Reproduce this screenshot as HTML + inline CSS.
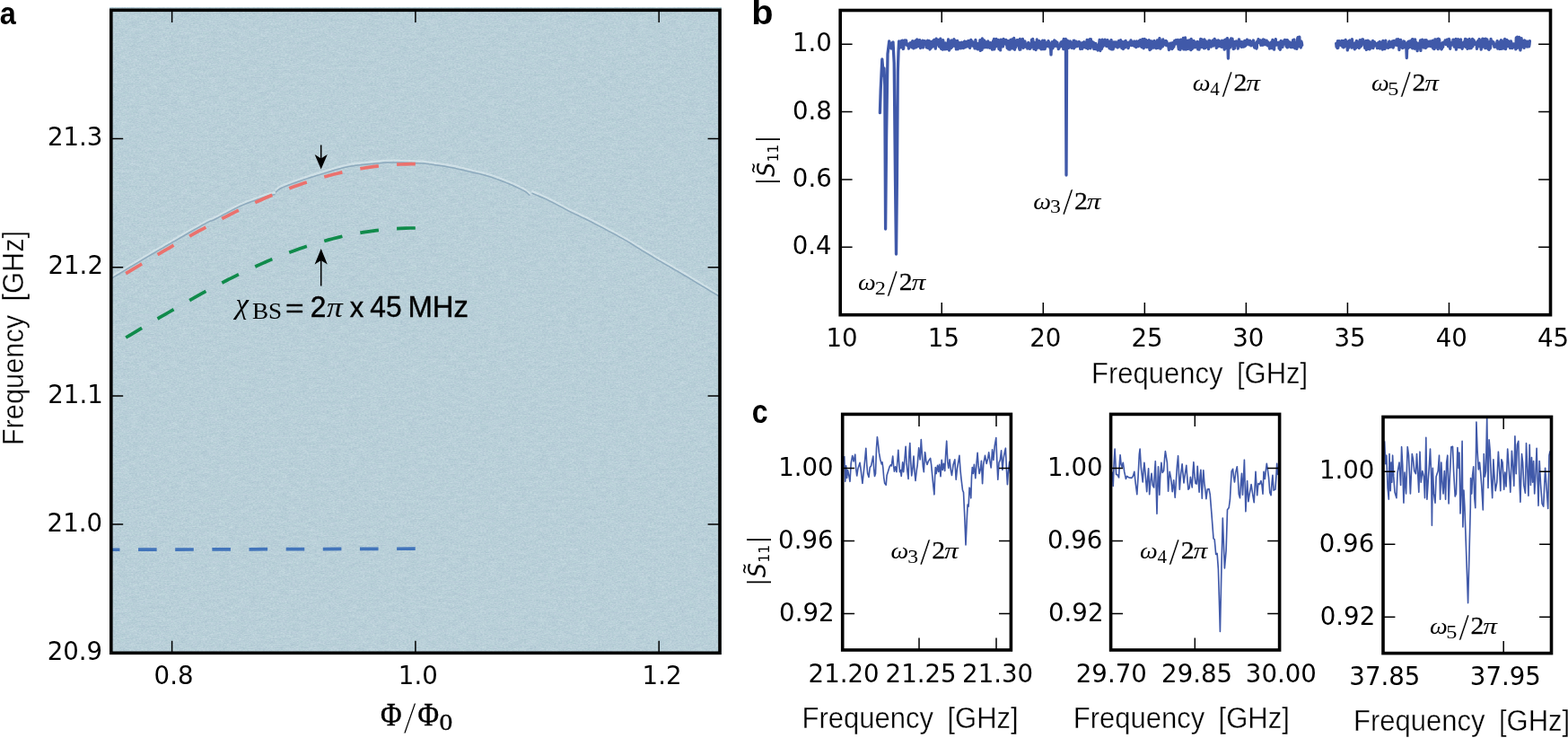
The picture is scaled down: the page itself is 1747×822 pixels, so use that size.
<!DOCTYPE html>
<html lang="en"><head><meta charset="utf-8"><title>Figure</title>
<style>html,body{margin:0;padding:0;background:#fff}body{width:1747px;height:822px;overflow:hidden}svg{display:block}text{fill:#000;font-kerning:none;white-space:pre}</style>
</head><body>
<svg width="1747" height="822" viewBox="0 0 1747 822">
<rect width="1747" height="822" fill="#fff"/>
<defs><clipPath id="ca"><rect x="123.8" y="11.3" width="678.2" height="716"/></clipPath><filter id="nz" x="0" y="0" width="100%" height="100%" color-interpolation-filters="sRGB"><feTurbulence type="fractalNoise" baseFrequency="0.45 0.8" numOctaves="2" seed="4"/><feColorMatrix type="matrix" values="1 0 0 0 0  0 1 0 0 0  0 0 1 0 0  0 0 0 0 1" result="f"/><feTurbulence type="fractalNoise" baseFrequency="0.09 0.28" numOctaves="2" seed="9"/><feColorMatrix type="matrix" values="1 0 0 0 0  0 1 0 0 0  0 0 1 0 0  0 0 0 0 1" result="c"/><feComposite in="f" in2="c" operator="arithmetic" k1="0" k2="0.85" k3="0.4" k4="-0.125"/><feColorMatrix type="matrix" values="0.16 0.04 0 0 0.625  0.13 0 0.035 0 0.730  0.10 0.03 0 0 0.783  0 0 0 0 1"/></filter><filter id="sb" x="-5%" y="-5%" width="110%" height="110%"><feGaussianBlur stdDeviation="0.55"/></filter></defs>
<rect x="122.3" y="8.8" width="681.2" height="720" fill="#b8cfd8"/>
<rect x="122.3" y="8.8" width="681.2" height="720" filter="url(#nz)"/>
<g clip-path="url(#ca)" fill="none" stroke-linejoin="round" stroke-linecap="round" filter="url(#sb)">
<path d="M116 312.9L116.7 312.5L117.4 312.1L118.4 311.5L119.8 310.6L122.1 309.2L125.5 307.2L130.3 304.3L136.3 300.7L143.2 296.5L150.4 292.2L157.4 288L163.8 284.2L169.6 280.8L175.2 277.5L180.6 274.4L185.9 271.3L191.3 268.2L196.7 265.1L202.4 261.8L208.5 258.3L214.5 254.8L220.2 251.6L225.3 248.7L229.5 246.4L232.3 244.9L234 244.2L235.1 243.8L236.1 243.5L237.5 243L240 241.8L243.6 239.9L248.1 237.5L252.9 234.9L258 232.2L262.9 229.7L267.4 227.5L271.6 225.7L275.8 224L279.8 222.5L283.6 221.2L287 220L290 218.9L292.4 218L294.4 217.4L296 216.8L297.4 216.4L298.7 216.1L300 215.7L301.3 215.4L302.5 215.1L303.6 214.9L304.5 214.7L305.3 214.6L305.9 214.5M307.6 211.5L308.2 211L308.8 210.4L309.5 209.7L310.7 208.8L312.3 207.8L314.5 206.7L317.6 205.4L321.4 204L325.6 202.4L330.1 200.8L334.5 199.3L338.6 197.9L342.3 196.7L345.7 195.5L349.1 194.5L352.5 193.4L356.1 192.4L360 191.2L364.2 189.9L368.7 188.5L373.3 187.1L378 185.8L382.8 184.5L387.4 183.5L392 182.7L396.7 182L401.4 181.5L406.1 181L410.6 180.6L414.8 180.2L418.6 179.8L422.1 179.5L425.4 179.2L428.8 178.9L432.5 178.8L436.7 178.7L441.8 178.7L447.7 178.8L453.8 179L459.8 179.3L465.2 179.5L469.5 179.7L472.4 179.9L474.2 180L475.4 180.2L476.5 180.3L477.8 180.6L480 180.9L483 181.3L486.5 181.8L490.2 182.3L494.2 182.9L498.1 183.5L501.9 184.2L505.5 184.9L509.2 185.7L512.8 186.5L516.5 187.4L520.1 188.2L523.8 189.1L527.4 190L531.1 190.8L534.8 191.6L538.4 192.5L542 193.5L545.7 194.6L549.4 195.8L553.2 197.2L557 198.6L560.7 200L564.3 201.4L567.6 202.8L570.8 204.1L573.9 205.5L576.8 206.9L579.5 208.2L581.9 209.4L584 210.5L585.6 211.5L586.9 212.4L587.9 213.3L588.7 214L589.3 214.6L589.8 215.1M593.2 213.2L595.2 214.1L597.9 215.2L601.2 216.6L604.7 218.1L608.4 219.7L611.9 221.4L615.4 223.1L619 225L622.6 227L626.4 229L630.1 231L633.8 232.9L637.4 234.7L641.1 236.4L644.8 238.2L648.4 239.9L652 241.6L655.7 243.4L659.4 245.3L663 247.1L666.7 249.1L670.3 251L674 252.9L677.6 254.9L681.4 256.9L685.3 259L689.1 261.1L692.9 263.2L696.4 265.1L699.5 266.9L702 268.4L704 269.6L705.7 270.7L707.4 271.9L709.4 273.1L711.9 274.7L715 276.6L718.5 278.7L722.3 281L726.1 283.3L730 285.7L733.8 287.9L737.4 290L741.1 292.1L744.8 294.2L748.4 296.3L752 298.4L755.7 300.5L759.4 302.7L763 304.8L766.7 307L770.3 309.2L774 311.4L777.6 313.6L781.4 315.9L785.3 318.2L789.3 320.6L793 322.9L796.5 325L799.5 326.8L802 328.3L804.2 329.6L806.1 330.8L807.7 331.7L809 332.5L810 333.1" stroke="#e8f1f5" stroke-width="2.3" opacity="0.5"/>
<path d="M116 315.1L116.7 314.7L117.4 314.3L118.4 313.7L119.8 312.8L122.1 311.4L125.5 309.4L130.3 306.5L136.3 302.9L143.2 298.7L150.4 294.4L157.4 290.2L163.8 286.4L169.6 283L175.2 279.7L180.6 276.6L185.9 273.5L191.3 270.4L196.7 267.3L202.4 264L208.5 260.5L214.5 257L220.2 253.8L225.3 250.9L229.5 248.6L232.3 247.1L234 246.4L235.1 246L236.1 245.7L237.5 245.2L240 244L243.6 242.1L248.1 239.7L252.9 237.1L258 234.4L262.9 231.9L267.4 229.7L271.6 227.9L275.8 226.2L279.8 224.7L283.6 223.4L287 222.2L290 221.1L292.4 220.2L294.4 219.6L296 219L297.4 218.6L298.7 218.3L300 217.9L301.3 217.6L302.5 217.3L303.6 217.1L304.5 216.9L305.3 216.8L305.9 216.7M307.6 213.7L308.2 213.2L308.8 212.6L309.5 211.8L310.7 211L312.3 210L314.5 208.9L317.6 207.6L321.4 206.2L325.6 204.6L330.1 203L334.5 201.5L338.6 200.1L342.3 198.9L345.7 197.7L349.1 196.7L352.5 195.6L356.1 194.6L360 193.4L364.2 192.1L368.7 190.7L373.3 189.3L378 188L382.8 186.7L387.4 185.7L392 184.9L396.7 184.2L401.4 183.7L406.1 183.2L410.6 182.8L414.8 182.4L418.6 182L422.1 181.7L425.4 181.4L428.8 181.1L432.5 181L436.7 180.9L441.8 180.9L447.7 181L453.8 181.2L459.8 181.5L465.2 181.7L469.5 181.9L472.4 182.1L474.2 182.2L475.4 182.4L476.5 182.5L477.8 182.8L480 183.1L483 183.5L486.5 184L490.2 184.5L494.2 185.1L498.1 185.7L501.9 186.4L505.5 187.1L509.2 187.9L512.8 188.7L516.5 189.6L520.1 190.4L523.8 191.3L527.4 192.2L531.1 193L534.8 193.8L538.4 194.7L542 195.7L545.7 196.8L549.4 198L553.2 199.4L557 200.8L560.7 202.2L564.3 203.6L567.6 205L570.8 206.3L573.9 207.7L576.8 209.1L579.5 210.4L581.9 211.6L584 212.7L585.6 213.7L586.9 214.6L587.9 215.5L588.7 216.2L589.3 216.8L589.8 217.3M593.2 215.4L595.2 216.3L597.9 217.4L601.2 218.8L604.7 220.3L608.4 221.9L611.9 223.6L615.4 225.3L619 227.2L622.6 229.2L626.4 231.2L630.1 233.2L633.8 235.1L637.4 236.9L641.1 238.6L644.8 240.3L648.4 242.1L652 243.8L655.7 245.6L659.4 247.5L663 249.3L666.7 251.3L670.3 253.2L674 255.1L677.6 257.1L681.4 259.1L685.3 261.2L689.1 263.3L692.9 265.4L696.4 267.3L699.5 269.1L702 270.6L704 271.8L705.7 272.9L707.4 274.1L709.4 275.3L711.9 276.9L715 278.8L718.5 280.9L722.3 283.2L726.1 285.5L730 287.9L733.8 290.1L737.4 292.2L741.1 294.3L744.8 296.4L748.4 298.5L752 300.6L755.7 302.7L759.4 304.9L763 307L766.7 309.2L770.3 311.4L774 313.6L777.6 315.8L781.4 318.1L785.3 320.4L789.3 322.8L793 325.1L796.5 327.2L799.5 329L802 330.5L804.2 331.8L806.1 333L807.7 333.9L809 334.7L810 335.3" stroke="#8aa8bc" stroke-width="1.5" opacity="0.95"/>
</g>
<path d="M140.2 304.6L145.6 301.4L151 298.2L156.3 295L161.7 291.9L167.1 288.7L172.5 285.5L177.8 282.3L183.2 279.2L188.6 276.1L194 272.9L199.3 269.9L204.7 266.8L210.1 263.7L215.5 260.7L220.8 257.7L226.2 254.8L231.6 251.9L237 249L242.4 246.2L247.7 243.4L253.1 240.6L258.5 237.9L263.9 235.2L269.2 232.6L274.6 230L280 227.5L285.4 225.1L290.7 222.7L296.1 220.3L301.5 218L306.9 215.8L312.3 213.7L317.6 211.6L323 209.5L328.4 207.6L333.8 205.7L339.1 203.8L344.5 202.1L349.9 200.4L355.3 198.7L360.6 197.2L366 195.7L371.4 194.3L376.8 193L382.1 191.7L387.5 190.6L392.9 189.5L398.3 188.5L403.7 187.5L409 186.7L414.4 185.9L419.8 185.2L425.2 184.6L430.5 184.1L435.9 183.6L441.3 183.2L446.7 183L452 182.8L457.4 182.6L462.8 182.6" fill="none" stroke="#eb716d" stroke-width="3.7" stroke-dasharray="20.8 20.3"/>
<path d="M140.2 376L145.6 372.8L151 369.6L156.3 366.4L161.7 363.3L167.1 360.1L172.5 356.9L177.8 353.7L183.2 350.6L188.6 347.5L194 344.3L199.3 341.3L204.7 338.2L210.1 335.1L215.5 332.1L220.8 329.1L226.2 326.2L231.6 323.3L237 320.4L242.4 317.6L247.7 314.8L253.1 312L258.5 309.3L263.9 306.6L269.2 304L274.6 301.4L280 298.9L285.4 296.5L290.7 294.1L296.1 291.7L301.5 289.4L306.9 287.2L312.3 285.1L317.6 283L323 280.9L328.4 279L333.8 277.1L339.1 275.2L344.5 273.5L349.9 271.8L355.3 270.1L360.6 268.6L366 267.1L371.4 265.7L376.8 264.4L382.1 263.1L387.5 262L392.9 260.9L398.3 259.9L403.7 258.9L409 258.1L414.4 257.3L419.8 256.6L425.2 256L430.5 255.5L435.9 255L441.3 254.6L446.7 254.4L452 254.2L457.4 254L462.8 254" fill="none" stroke="#108b4b" stroke-width="3.7" stroke-dasharray="20.8 20.3"/>
<path d="M112.9 612.3L464.6 611.2" fill="none" stroke="#4274ba" stroke-width="3.7" stroke-dasharray="20.6 20.55" clip-path="url(#ca)"/>
<path d="M357.7 161.5V178M357.7 318.5V288" stroke="#000" stroke-width="1.5" fill="none"/>
<path d="M357.7 188.6L350.6 171.9L357.7 176.4L364.8 171.9ZM357.7 277.1L350.6 294.5L357.7 290.0L364.8 294.5Z" fill="#000"/>
<text transform="translate(262.61 349.35) scale(1.027 1)" font-size="31.7" font-family="Liberation Serif, DejaVu Serif, serif" font-style="italic">χ</text>
<text transform="translate(280.92 355.2) scale(1.046 1)" font-size="26" font-family="Liberation Serif, DejaVu Serif, serif">BS</text>
<text transform="translate(317.97 352.69) scale(1.268 1)" font-size="27.93" font-family="Liberation Sans, DejaVu Sans, sans-serif" stroke="#000" stroke-width="0.3">=</text>
<text transform="translate(345.81 352.9) scale(0.970 1)" font-size="32.6" font-family="Liberation Sans, DejaVu Sans, sans-serif" stroke="#000" stroke-width="0.5">2</text>
<text transform="translate(364.01 352.9) scale(1.155 1)" font-size="30.72" font-family="Liberation Serif, DejaVu Serif, serif" font-style="italic">π</text>
<text transform="translate(389.85 352.9) scale(0.968 1)" font-size="32" font-family="Liberation Sans, DejaVu Sans, sans-serif" stroke="#000" stroke-width="0.4">x</text>
<text transform="translate(412.27 352.9) scale(0.975 1)" font-size="32.6" font-family="Liberation Sans, DejaVu Sans, sans-serif" stroke="#000" stroke-width="0.4">45</text>
<text transform="translate(454.4 352.9) scale(0.994 1)" font-size="33.1" font-family="Liberation Sans, DejaVu Sans, sans-serif" stroke="#000" stroke-width="0.4">MHz</text>
<rect x="123.8" y="11.3" width="678.2" height="716" fill="none" stroke="#000" stroke-width="3.6"/>
<path d="M191.62 727.3v-13.6M191.62 11.3v13.6M462.9 727.3v-13.6M462.9 11.3v13.6M734.18 727.3v-13.6M734.18 11.3v13.6M123.8 584.1h13.4M802 584.1h-13.4M123.8 440.9h13.4M802 440.9h-13.4M123.8 297.7h13.4M802 297.7h-13.4M123.8 154.5h13.4M802 154.5h-13.4" stroke="#000" stroke-width="1.5" fill="none"/>
<text x="171.61" y="761.8" font-size="27.6" font-family="DejaVu Sans, Liberation Sans, sans-serif">0.8</text>
<text x="443.85" y="761.8" font-size="27.6" font-family="DejaVu Sans, Liberation Sans, sans-serif">1.0</text>
<text x="715.6" y="761.8" font-size="27.6" font-family="DejaVu Sans, Liberation Sans, sans-serif">1.2</text>
<text x="52.69" y="735" font-size="27.6" font-family="DejaVu Sans, Liberation Sans, sans-serif">20.9</text>
<text x="52.58" y="591.8" font-size="27.6" font-family="DejaVu Sans, Liberation Sans, sans-serif">21.0</text>
<text x="53.29" y="448.6" font-size="27.6" font-family="DejaVu Sans, Liberation Sans, sans-serif">21.1</text>
<text x="53.51" y="305.4" font-size="27.6" font-family="DejaVu Sans, Liberation Sans, sans-serif">21.2</text>
<text x="52.96" y="162.2" font-size="27.6" font-family="DejaVu Sans, Liberation Sans, sans-serif">21.3</text>
<text transform="translate(26.1 496.23) rotate(-90) scale(0.909 1)" font-size="33.87" font-family="Liberation Sans, DejaVu Sans, sans-serif" word-spacing="7.39" stroke="#fff" stroke-width="0.38" paint-order="fill stroke">Frequency [GHz]</text>
<text transform="translate(423.92 807.6) scale(0.890 1)" font-size="36.2" font-family="Liberation Serif, DejaVu Serif, serif" stroke="#000" stroke-width="0.5">Φ</text>
<text transform="translate(449.4 815.6) scale(0.998 1)" font-size="51.57" font-family="Liberation Serif, DejaVu Serif, serif" stroke="#fff" stroke-width="0.9">/</text>
<text transform="translate(465.62 807.6) scale(0.890 1)" font-size="36.2" font-family="Liberation Serif, DejaVu Serif, serif" stroke="#000" stroke-width="0.5">Φ</text>
<text transform="translate(489.48 812.96) scale(1.185 1)" font-size="24.9" font-family="Liberation Serif, DejaVu Serif, serif" stroke="#000" stroke-width="0.3">0</text>
<g fill="none" stroke="#4059a9" stroke-width="3.3" stroke-linejoin="round" stroke-linecap="round">
<path d="M980.4 125.6L981.2 100L982.8 66L984.3 84L985 76L985.8 95L986.6 255L987.6 150L989 60L990.7 46L991.8 50.5L993 54L994 48L995 47L996.2 70L997.5 200L998.5 283L999.4 200L1000.3 80L1001 58L1001.6 46L1002 53.7L1002.4 49L1002.8 49.4L1003.3 50.3L1003.7 46.1L1004.1 52.5L1004.5 45.3L1004.9 47.4L1005.4 45.2L1005.8 52.7L1006.2 54.5L1006.6 54.3L1007 50.7L1007.5 50.2L1007.9 44.9L1008.3 45.3L1008.7 46.4L1009.1 46.8L1009.6 45L1010 48.7L1010.4 49.7L1010.8 50.8L1011.2 49.5L1011.7 51L1012.1 49.1L1012.5 54.1L1012.9 52.9L1013.3 51.8L1013.8 48.5L1014.2 47.8L1014.6 51.4L1015 48.5L1015.4 52L1015.9 48.4L1016.3 52.9L1016.7 45.6L1017.1 53.1L1017.5 48.4L1018 53.9L1018.4 47.6L1018.8 51.4L1019.2 47.1L1019.6 45.6L1020.1 47.6L1020.5 52.9L1020.9 46L1021.3 44.4L1021.7 44L1022.2 51.8L1022.6 45.2L1023 45.4L1023.4 51.3L1023.8 44.8L1024.3 50.3L1024.7 44.6L1025.1 46.2L1025.5 53.5L1025.9 51.7L1026.4 46.6L1026.8 52.6L1027.2 51.8L1027.6 49.9L1028 45.1L1028.5 53L1028.9 46.1L1029.3 47.8L1029.7 47.5L1030.1 45.7L1030.6 45.9L1031 49.9L1031.4 48.4L1031.8 49L1032.2 52.8L1032.7 49.2L1033.1 49.9L1033.5 45.2L1033.9 53.3L1034.4 52.3L1034.8 46.3L1035.2 45.6L1035.6 45.9L1036 55L1036.5 54.2L1036.9 50.8L1037.3 48.6L1037.7 53.2L1038.1 46.5L1038.6 50.8L1039 46.7L1039.4 51.9L1039.8 45.5L1040.2 51.1L1040.7 44.4L1041.1 46L1041.5 49.4L1041.9 46.4L1042.3 54.2L1042.8 45.4L1043.2 43.1L1043.6 46.2L1044 44.9L1044.4 47.1L1044.9 49.4L1045.3 44.4L1045.7 47L1046.1 51.5L1046.5 51.9L1047 50.5L1047.4 44.6L1047.8 43.2L1048.2 51.8L1048.6 54.3L1049.1 45.2L1049.5 51.2L1049.9 49.7L1050.3 55.1L1050.7 44.7L1051.2 50L1051.6 52.1L1052 54L1052.4 53.3L1052.8 54.8L1053.3 47.8L1053.7 52L1054.1 54.6L1054.5 53.5L1054.9 54.5L1055.4 50.5L1055.8 51.2L1056.2 47.8L1056.6 44L1057 51.4L1057.5 56L1057.9 54.5L1058.3 52.5L1058.7 50.7L1059.1 49L1059.6 53.7L1060 44.9L1060.4 52.7L1060.8 49.6L1061.2 47.4L1061.7 51.4L1062.1 49.7L1062.5 50.7L1062.9 43.6L1063.3 47L1063.8 51.4L1064.2 45.8L1064.6 45.4L1065 48.7L1065.4 54.8L1065.9 47.1L1066.3 51.7L1066.7 45.4L1067.1 54.8L1067.5 54.4L1068 48.4L1068.4 50.8L1068.8 47.6L1069.2 52.9L1069.6 53L1070.1 51.7L1070.5 53.9L1070.9 47.5L1071.3 47.7L1071.7 47.2L1072.2 48.8L1072.6 50.5L1073 49.4L1073.4 53.6L1073.8 49.4L1074.3 46.5L1074.7 46.1L1075.1 52.8L1075.5 50.5L1075.9 48.5L1076.4 52.1L1076.8 46.3L1077.2 47.1L1077.6 51.9L1078 47L1078.5 46.1L1078.9 45.4L1079.3 50.2L1079.7 50.7L1080.1 52.1L1080.6 53.4L1081 51L1081.4 46.7L1081.8 44.4L1082.2 48.7L1082.7 50.9L1083.1 46L1083.5 46.8L1083.9 49.5L1084.3 50.3L1084.8 51.6L1085.2 48.3L1085.6 51.9L1086 53.9L1086.4 51.4L1086.9 44.4L1087.3 48.2L1087.7 50.3L1088.1 49.7L1088.5 54L1089 52.8L1089.4 54.9L1089.8 48.3L1090.2 51.6L1090.6 52.9L1091.1 50.5L1091.5 51.5L1091.9 44.7L1092.3 56.4L1092.7 49.9L1093.2 53.6L1093.6 46.7L1094 55.4L1094.4 43L1094.8 48.3L1095.3 49.9L1095.7 53.1L1096.1 49L1096.5 44.9L1096.9 52.8L1097.4 46.1L1097.8 47.8L1098.2 52.7L1098.6 49.2L1099.1 51L1099.5 52L1099.9 50.7L1100.3 52.9L1100.7 45.8L1101.2 47.1L1101.6 49.9L1102 47.7L1102.4 51.8L1102.8 53.2L1103.3 50.2L1103.7 47.6L1104.1 48.3L1104.5 53.2L1104.9 53.6L1105.4 55.1L1105.8 49.5L1106.2 50.1L1106.6 45.3L1107 50.5L1107.5 43.4L1107.9 54.9L1108.3 49.4L1108.7 48L1109.1 49.2L1109.6 51.8L1110 43.5L1110.4 49.8L1110.8 48.1L1111.2 46.4L1111.7 49.4L1112.1 44.3L1112.5 48.8L1112.9 54.5L1113.3 46.9L1113.8 45.1L1114.2 51.4L1114.6 55.9L1115 44.1L1115.4 44.4L1115.9 44.9L1116.3 51.7L1116.7 46.3L1117.1 46.8L1117.5 51.8L1118 43.3L1118.4 48.7L1118.8 45.1L1119.2 44.3L1119.6 47.1L1120.1 47.6L1120.5 49.1L1120.9 44.3L1121.3 44.9L1121.7 49.4L1122.2 53.6L1122.6 50.5L1123 53.6L1123.4 45.6L1123.8 54.9L1124.3 47L1124.7 47L1125.1 55.2L1125.5 45.7L1125.9 44.5L1126.4 46L1126.8 53.3L1127.2 46.3L1127.6 43.9L1128 53.9L1128.5 44.1L1128.9 48.2L1129.3 52.4L1129.7 42.5L1130.1 54.5L1130.6 55.2L1131 45.3L1131.4 49.8L1131.8 52.7L1132.2 46.3L1132.7 45L1133.1 45.4L1133.5 44.6L1133.9 50.4L1134.3 45.8L1134.8 46.2L1135.2 46.5L1135.6 53.5L1136 55.2L1136.4 43.3L1136.9 55.1L1137.3 48.6L1137.7 52.7L1138.1 46.8L1138.5 48.3L1139 50.4L1139.4 43.3L1139.8 51.6L1140.2 53.4L1140.6 51.5L1141.1 48.2L1141.5 46.2L1141.9 45.9L1142.3 49.3L1142.7 52L1143.2 51.2L1143.6 52.4L1144 50.7L1144.4 48.9L1144.8 54L1145.3 52.4L1145.7 47.3L1146.1 53.4L1146.5 51.8L1146.9 48.8L1147.4 54.3L1147.8 54.1L1148.2 52.1L1148.6 52.9L1149 52.4L1149.5 44.2L1149.9 47.6L1150.3 49.2L1150.7 43.5L1151.1 51L1151.6 46.7L1152 54.6L1152.4 51.5L1152.8 47.9L1153.2 50L1153.7 48.3L1154.1 55.5L1154.5 51.3L1154.9 52L1155.3 44L1155.8 51.6L1156.2 53.2L1156.6 47L1157 48.8L1157.4 48.3L1157.9 45.7L1158.3 47.1L1158.7 53.4L1159.1 50L1159.5 50.7L1160 54.9L1160.4 51.4L1160.8 53.1L1161.2 45.8L1161.6 45.2L1162.1 54.7L1162.5 46.4L1162.9 49.8L1163.3 46.5L1163.8 45.3L1164.2 54.7L1164.6 49.1L1165 50.3L1165.4 51L1165.9 51.1L1166.3 50.1L1166.7 47.4L1167.1 51.7L1167.5 47.5L1168 45.7L1168.4 46.5L1168.8 51.1L1169.2 48.3L1169.6 52.2L1170.1 53.6L1170.5 53.1L1170.5 51.2L1171 60.9L1171.5 51.2L1171.7 47.9L1172.2 46.8L1172.6 49.6L1173 53.8L1173.4 51.7L1173.8 49.1L1174.3 51.1L1174.7 44.8L1175.1 51.4L1175.5 49.2L1175.9 45.9L1176.4 46L1176.8 49.1L1177.2 51.3L1177.6 49.2L1178 47.4L1178.5 52.3L1178.9 49.8L1179.3 54.6L1179.7 54.2L1180.1 51.9L1180.6 52.5L1181 51.5L1181.4 50.1L1181.8 47.7L1182.2 46.9L1182.7 50.1L1183.1 50.5L1183.5 51.8L1183.9 45.8L1184.3 46.5L1184.8 54.7L1185.2 43.5L1185.6 43.8L1186 46.6L1186.4 48.7L1186.9 49.6L1187.3 43.5L1187.4 51.2L1188 195.1L1188.6 51.2L1189 48.7L1189.4 45.2L1189.8 47L1190.2 52.2L1190.6 53.4L1191.1 51.6L1191.5 49.8L1191.9 51.2L1192.3 45.8L1192.7 47.9L1193.2 48.1L1193.6 50.5L1194 53.4L1194.4 47.7L1194.8 49.6L1195.3 49L1195.7 48.3L1196.1 45.4L1196.5 53.8L1196.9 45.2L1197.4 49.5L1197.8 51.2L1198.2 48L1198.6 52L1199 46.1L1199.5 46.6L1199.9 48.3L1200.3 51.5L1200.7 51.2L1201.1 48.1L1201.6 51.2L1202 48.4L1202.4 46.5L1202.8 51L1203.2 50L1203.7 54.5L1204.1 49.2L1204.5 53.3L1204.9 47.8L1205.3 47.9L1205.8 54.3L1206.2 47.7L1206.6 48.8L1207 48.9L1207.4 48.8L1207.9 46.8L1208.3 50.5L1208.7 52.7L1209.1 50.2L1209.5 53.1L1210 52L1210.4 53.3L1210.8 47L1211.2 44.3L1211.6 49.4L1212.1 54.4L1212.5 51L1212.9 52.6L1213.3 44.7L1213.7 49.9L1214.2 43.7L1214.6 51.8L1215 53.8L1215.4 43.7L1215.8 50.5L1216.3 50.7L1216.7 46.8L1217.1 46.6L1217.5 51.8L1217.9 49.5L1218.4 47.3L1218.8 54.5L1219.2 51.1L1219.6 49.1L1220 49.6L1220.5 54.6L1220.9 48.3L1221.3 53.5L1221.7 51.5L1222.1 53.8L1222.6 55L1223 56L1223.4 51.7L1223.8 50.1L1224.2 52.6L1224.7 48.4L1225.1 44.5L1225.5 53L1225.9 56.5L1226.3 47.8L1226.8 48.3L1227.2 46.8L1227.6 54.3L1228 44.2L1228.5 47L1228.9 51.8L1229.3 46.5L1229.7 45.5L1230.1 49L1230.6 50.1L1231 44.2L1231.4 45.1L1231.8 45.5L1232.2 45.7L1232.7 51.3L1233.1 44.9L1233.5 46L1233.9 44.7L1234.3 51.6L1234.8 46.4L1235.2 48.9L1235.6 46.4L1236 53.7L1236.4 54L1236.9 47.3L1237.3 49.6L1237.7 46.5L1238.1 44.6L1238.5 54.9L1239 53.2L1239.4 49.8L1239.8 47.3L1240.2 54.8L1240.6 51.3L1241.1 46.9L1241.5 48.5L1241.9 51.8L1242.3 51.2L1242.7 50.3L1243.2 46.8L1243.6 47.4L1244 52L1244.4 49.4L1244.8 50.3L1245.3 53L1245.7 46.6L1246.1 51.3L1246.5 45.5L1246.9 51.7L1247.4 51.9L1247.8 46.4L1248.2 51.1L1248.6 44.6L1249 48.6L1249.5 48.5L1249.9 53.7L1250.3 46.5L1250.7 52.8L1251.1 48L1251.6 54.5L1252 46.6L1252.4 49.9L1252.8 49.8L1253.2 46.1L1253.7 52.8L1254.1 45.4L1254.5 47.4L1254.9 48.9L1255.3 51.2L1255.8 47.9L1256.2 47.6L1256.6 48.4L1257 53.7L1257.4 52.3L1257.9 50.4L1258.3 50.4L1258.7 46.7L1259.1 49.3L1259.5 48.4L1260 44.9L1260.4 45.9L1260.8 50.6L1261.2 46.9L1261.6 47.8L1262.1 49.7L1262.5 48L1262.9 50.8L1263.3 46.6L1263.7 46.1L1264.2 51.4L1264.6 50.3L1265 51.8L1265.4 48.1L1265.8 52.7L1266.3 45.9L1266.7 50.5L1267.1 50.7L1267.5 46.6L1267.9 48.3L1268.4 51.7L1268.8 46.1L1269.2 45.5L1269.6 45.2L1270 47.8L1270.5 44.7L1270.9 48.9L1271.3 50.5L1271.7 52L1272.1 52.6L1272.6 47.4L1273 43.7L1273.4 47.8L1273.8 50.9L1274.2 53.9L1274.7 51.9L1275.1 43.5L1275.5 47.1L1275.9 47.3L1276.3 50.8L1276.8 44.5L1277.2 52.2L1277.6 52.6L1278 50.3L1278.4 45.6L1278.9 52L1279.3 47.4L1279.7 49.3L1280.1 44.7L1280.5 52L1281 55.5L1281.4 53.6L1281.8 45.9L1282.2 54.9L1282.6 51.1L1283.1 45.9L1283.5 49.9L1283.9 51L1284.3 47.6L1284.7 53.1L1285.2 47.9L1285.6 53.2L1286 45.3L1286.4 52.6L1286.8 49.2L1287.3 49.3L1287.7 52.8L1288.1 53.7L1288.5 51.9L1288.9 49.7L1289.4 44.8L1289.8 53.4L1290.2 45.4L1290.6 49.5L1291.1 52.6L1291.5 44.7L1291.9 42.7L1292.3 44.5L1292.7 54.1L1293.2 53.5L1293.6 50.2L1294 51.2L1294.4 47.6L1294.8 49.7L1295.3 51.9L1295.7 43.8L1296.1 45.8L1296.5 47.9L1296.9 49.5L1297.4 46L1297.8 49.1L1298.2 47.7L1298.6 50.2L1299 45.4L1299.5 50.5L1299.9 46.2L1300.3 48.9L1300.7 48.3L1301.1 50.7L1301.6 51.5L1302 52.3L1302.4 55.5L1302.8 53.5L1303.2 53.7L1303.7 48.1L1304.1 48.4L1304.5 50.1L1304.9 50.1L1305.3 48.9L1305.8 54.7L1306.2 47.6L1306.6 53.6L1307 52L1307.4 50.8L1307.9 52.2L1308.3 48.1L1308.7 45.4L1309.1 48.6L1309.5 49.2L1310 48.1L1310.4 44.6L1310.8 46.3L1311.2 47L1311.6 48.1L1312.1 46.2L1312.5 44.3L1312.9 52.1L1313.3 54.8L1313.7 48.8L1314.2 53.9L1314.6 46.1L1315 55.3L1315.4 44.2L1315.8 53.8L1316.3 44.5L1316.7 50.3L1317.1 45.2L1317.5 46L1317.9 46.4L1318.4 42.5L1318.8 54.9L1319.2 46.8L1319.6 50.2L1320 42.2L1320.5 42L1320.9 54.9L1321.3 54.4L1321.7 54.9L1322.1 48.7L1322.6 45.5L1323 46.6L1323.4 45.3L1323.8 54.4L1324.2 47.6L1324.7 49.2L1325.1 45L1325.5 45.7L1325.9 52.1L1326.3 45.5L1326.8 55.7L1327.2 43.4L1327.6 48.1L1328 54.6L1328.4 54.2L1328.9 52.5L1329.3 46.1L1329.7 49.7L1330.1 45.3L1330.5 47.1L1331 48.1L1331.4 52.9L1331.8 47.1L1332.2 51.3L1332.6 52.5L1333.1 48.4L1333.5 51.3L1333.9 46.4L1334.3 47.2L1334.7 54.9L1335.2 51.7L1335.6 46.9L1336 55.1L1336.4 48.3L1336.8 49.4L1337.3 49.5L1337.7 43.4L1338.1 45.8L1338.5 52.6L1338.9 43.8L1339.4 46.2L1339.8 52L1340.2 49.2L1340.6 45.5L1341 52.8L1341.5 53.8L1341.9 43.9L1342.3 48L1342.7 53.6L1343.1 49.2L1343.6 45.9L1344 49.8L1344.4 50.8L1344.8 52.2L1345.2 49.2L1345.7 49.1L1346.1 52.9L1346.5 54.6L1346.9 45.2L1347.3 52.5L1347.8 45.1L1348.2 50.4L1348.6 51.9L1349 52L1349.4 52L1349.9 46.5L1350.3 49L1350.7 49.3L1351.1 45.2L1351.5 50.1L1352 51.1L1352.4 49.9L1352.8 44.9L1353.2 43.4L1353.6 48.8L1354.1 48.1L1354.5 48.2L1354.9 45.2L1355.3 53.4L1355.8 50L1356.2 49.8L1356.6 52.2L1357 47.3L1357.4 45L1357.9 47.3L1358.3 50L1358.7 49.1L1359.1 45.8L1359.5 51.7L1360 46.5L1360.4 47.2L1360.8 46.4L1361.2 52.4L1361.6 45.2L1362.1 48.7L1362.5 48.2L1362.9 46.8L1363.3 48.8L1363.7 52.3L1364.2 55.2L1364.6 44.4L1365 48.4L1365.4 45L1365.8 53.7L1366.3 43.7L1366.7 47.1L1367.1 45.8L1367.5 42.6L1367.9 51.2L1368.4 65L1368.9 51.2L1369.2 45L1369.6 46L1370 48.2L1370.5 53L1370.9 47.2L1371.3 47L1371.7 43L1372.1 47.7L1372.6 50.9L1373 43.2L1373.4 46.9L1373.8 50.7L1374.2 54.6L1374.7 49L1375.1 48.1L1375.5 54L1375.9 46.4L1376.3 48L1376.8 46.1L1377.2 50.3L1377.6 45.8L1378 49L1378.4 47.4L1378.9 48.8L1379.3 54L1379.7 51L1380.1 47.5L1380.5 43.8L1381 51.2L1381.4 47.3L1381.8 46.2L1382.2 46.6L1382.6 47.7L1383.1 52.4L1383.5 50.6L1383.9 46.6L1384.3 52.2L1384.7 47.2L1385.2 50.7L1385.6 50.4L1386 52L1386.4 47.6L1386.8 45.3L1387.3 51.4L1387.7 47.1L1388.1 50.5L1388.5 47.3L1388.9 45.9L1389.4 44.2L1389.8 45.1L1390.2 49L1390.6 47.7L1391 48.6L1391.5 45.5L1391.9 49.9L1392.3 46.5L1392.7 45.3L1393.1 45.9L1393.6 46.6L1394 50.9L1394.4 47.9L1394.8 46.8L1395.2 47.4L1395.7 47.9L1396.1 46.7L1396.5 45L1396.9 50L1397.3 51.9L1397.8 53.1L1398.2 48L1398.6 50.8L1399 51.2L1399.4 50.9L1399.9 54.1L1400.3 53.2L1400.7 46.2L1401.1 47.8L1401.5 47.4L1402 43.6L1402.4 47.3L1402.8 46.7L1403.2 44.8L1403.6 47.5L1404.1 48.3L1404.5 44.8L1404.9 50.4L1405.3 46.8L1405.7 47.6L1406.2 45L1406.6 49.1L1407 50.2L1407.4 44L1407.8 47.7L1408.3 47.5L1408.7 44.4L1409.1 47.9L1409.5 49.6L1409.9 48.7L1410.4 47.6L1410.8 47L1411.2 45.2L1411.6 50.1L1412 47.6L1412.5 50.9L1412.9 47L1413.3 49.3L1413.7 48.7L1414.1 50.7L1414.6 54.2L1415 52.6L1415.4 51.2L1415.8 48.8L1416.2 47.3L1416.7 53.2L1417.1 53.7L1417.5 48.4L1417.9 44.3L1418.3 49.1L1418.8 46.5L1419.2 47.2L1419.6 55.2L1420 46L1420.5 50.6L1420.9 46L1421.3 43.7L1421.7 49.2L1422.1 48.5L1422.6 50L1423 49L1423.4 49.8L1423.8 49.2L1424.2 47.4L1424.7 47.5L1425.1 53.9L1425.5 47.1L1425.9 51.9L1426.3 55.4L1426.8 53.6L1427.2 45.3L1427.6 51.1L1428 49.4L1428.4 46.7L1428.9 52.4L1429.3 49.7L1429.7 46.1L1430.1 46.3L1430.5 49.1L1431 44.9L1431.4 44.3L1431.8 44.3L1432.2 44.7L1432.6 48L1433.1 51.8L1433.5 48.3L1433.9 44.6L1434.3 52.9L1434.7 44.9L1435.2 48.3L1435.6 52.2L1436 46.8L1436.4 51.2L1436.8 46.9L1437.3 47L1437.7 51.7L1438.1 52.6L1438.5 52.5L1438.9 51.2L1439.4 50.3L1439.8 52.6L1440.2 52.3L1440.6 44.6L1441 46.4L1441.5 45.9L1441.9 44.2L1442.3 50.1L1442.7 53.8L1443.1 51.2L1443.6 47.7L1444 50.5L1444.4 47.4L1444.8 54.4L1445.2 51.6L1445.7 42.7L1446.1 41.6L1446.5 45.2L1446.9 51.8L1447.3 45.7L1447.8 41.2L1448.2 48.8L1448.6 48L1449 46.3L1449.4 53L1449.9 46.2L1450.3 47.6L1450.7 50.3"/>
<path d="M1488.7 48.5L1489.1 52.2L1489.5 50.4L1490 53.5L1490.4 45.6L1490.8 53.4L1491.2 46.8L1491.6 49.1L1492.1 45.6L1492.5 47.5L1492.9 46.6L1493.3 50.3L1493.7 47.6L1494.2 47.3L1494.6 49.2L1495 45.5L1495.4 45.6L1495.8 52.1L1496.3 47.5L1496.7 45.7L1497.1 52.9L1497.5 46.8L1498 51.9L1498.4 49L1498.8 48.4L1499.2 44.4L1499.6 49.5L1500.1 50.6L1500.5 50.3L1500.9 46.7L1501.3 55.9L1501.7 48.8L1502.2 53.8L1502.6 52.4L1503 45.4L1503.4 45.5L1503.8 45L1504.3 47.7L1504.7 51.5L1505.1 47.3L1505.5 45.7L1505.9 53.1L1506.4 43.7L1506.8 48.8L1507.2 51.6L1507.6 47.9L1508 52.6L1508.5 52.9L1508.9 52.2L1509.3 54.8L1509.7 48.8L1510.1 51.5L1510.6 47.4L1511 53.4L1511.4 45.3L1511.8 48.1L1512.2 47.9L1512.7 50.8L1513.1 52.4L1513.5 47.9L1513.9 46.6L1514.3 53.5L1514.8 47.1L1515.2 44.6L1515.6 47.2L1516 51.8L1516.5 49.4L1516.9 51L1517.3 44.8L1517.7 44L1518.1 48.1L1518.6 44L1519 48.8L1519.4 47.8L1519.8 47L1520.2 46.4L1520.7 53.3L1521.1 47.6L1521.5 52.1L1521.9 45.5L1522.3 55.4L1522.8 45.7L1523.2 48.1L1523.6 52L1524 45.1L1524.4 54.4L1524.9 47.6L1525.3 46.1L1525.7 48L1526.1 54.9L1526.5 48.5L1527 50.9L1527.4 47.1L1527.8 50.6L1528.2 53L1528.6 49.7L1529.1 50.4L1529.5 45.3L1529.9 53.5L1530.3 51.8L1530.7 48.9L1531.2 48.5L1531.6 46.8L1532 50.9L1532.4 50.5L1532.8 50.4L1533.3 48.5L1533.7 50.1L1534.1 50.1L1534.5 53.7L1535 53.4L1535.4 51.2L1535.8 47.4L1536.2 51.2L1536.6 53.4L1537.1 46.3L1537.5 54L1537.9 49.5L1538.3 47.2L1538.7 52.6L1539.2 53.4L1539.6 53.1L1540 50.1L1540.4 55.1L1540.8 45.5L1541.3 46.9L1541.7 53.9L1542.1 49.5L1542.5 50.5L1542.9 54.6L1543.4 51L1543.8 45.2L1544.2 50.1L1544.6 52.5L1545 49.5L1545.5 53L1545.9 52.2L1546.3 50.3L1546.7 53.4L1547.1 52.5L1547.6 46.5L1548 46L1548.4 48.3L1548.8 52.3L1549.2 52.1L1549.7 48.2L1550.1 51.7L1550.5 50L1550.9 52.1L1551.3 45.8L1551.8 50.3L1552.2 53.1L1552.6 51.4L1553 45.3L1553.5 50.7L1553.9 46.6L1554.3 46.4L1554.7 49.7L1555.1 46L1555.6 49.5L1556 43.9L1556.4 50.5L1556.8 47.9L1557.2 43.9L1557.7 43.7L1558.1 46.7L1558.5 44.5L1558.9 55.5L1559.3 51.3L1559.8 52L1560.2 47.6L1560.6 44.4L1561 50.2L1561.4 47.7L1561.9 52.5L1562.3 48.9L1562.7 53.6L1563.1 47.1L1563.5 51L1564 45.9L1564.4 52.9L1564.8 46.3L1565.2 52.7L1565.6 50.7L1566.1 48.2L1566.5 52L1566.8 51.2L1567.3 64.5L1567.8 51.2L1568.2 47.6L1568.6 53.9L1569 46.5L1569.4 51L1569.9 50.8L1570.3 46L1570.7 52.7L1571.1 45.9L1571.5 47.7L1572 46.9L1572.4 51.9L1572.8 49.4L1573.2 43.9L1573.6 53.8L1574.1 43.7L1574.5 47.2L1574.9 51.1L1575.3 47.5L1575.7 53.7L1576.2 54.3L1576.6 43.9L1577 47.6L1577.4 48.8L1577.8 47.1L1578.3 51.2L1578.7 50.5L1579.1 56.7L1579.5 48.4L1579.9 54.4L1580.4 51.9L1580.8 52.6L1581.2 48.6L1581.6 47.7L1582 51.4L1582.5 45L1582.9 56.4L1583.3 44.9L1583.7 47.8L1584.1 51.9L1584.6 44.2L1585 45.1L1585.4 52.2L1585.8 46.3L1586.2 53L1586.7 52.1L1587.1 52.6L1587.5 44.6L1587.9 52.6L1588.4 53.4L1588.8 53L1589.2 44.7L1589.6 49.6L1590 45.8L1590.5 51.9L1590.9 47.5L1591.3 49.4L1591.7 46.6L1592.1 46.2L1592.6 49.5L1593 47.8L1593.4 51.5L1593.8 45.9L1594.2 47.1L1594.7 48.9L1595.1 49.7L1595.5 48.9L1595.9 52.5L1596.3 45.1L1596.8 53.8L1597.2 49L1597.6 47.8L1598 54.6L1598.4 48.4L1598.9 43.9L1599.3 45.5L1599.7 52.9L1600.1 45.4L1600.5 50L1601 43.8L1601.4 44.8L1601.8 47.1L1602.2 54.7L1602.6 43.2L1603.1 48.5L1603.5 43.6L1603.9 46.3L1604.3 48.2L1604.7 49.9L1605.2 51.7L1605.6 54.3L1606 54.9L1606.4 54.3L1606.9 48.7L1607.3 47.6L1607.7 52.5L1608.1 47.1L1608.5 49.3L1609 48.1L1609.4 48.9L1609.8 49.1L1610.2 45L1610.6 49.3L1611.1 49.6L1611.5 47.7L1611.9 45.6L1612.3 44.1L1612.7 48.7L1613.2 45.9L1613.6 51.6L1614 48.7L1614.4 43.5L1614.8 44.5L1615.3 50.5L1615.7 54.3L1616.1 48.2L1616.5 50.5L1616.9 50.3L1617.4 50.1L1617.8 47.4L1618.2 49.2L1618.6 49.4L1619 44.1L1619.5 45.9L1619.9 46.1L1620.3 52.1L1620.7 47.9L1621.1 45.9L1621.6 51.1L1622 43.3L1622.4 55.1L1622.8 53.1L1623.2 52.3L1623.7 52L1624.1 50.3L1624.5 43.7L1624.9 51.7L1625.4 49.5L1625.8 52.7L1626.2 50.2L1626.6 45L1627 52.7L1627.5 43.9L1627.9 51.7L1628.3 48.3L1628.7 51.1L1629.1 54.4L1629.6 52.4L1630 47.9L1630.4 52L1630.8 47.1L1631.2 48L1631.7 46.3L1632.1 51.2L1632.5 43.4L1632.9 43.9L1633.3 52.4L1633.8 44L1634.2 44.1L1634.6 46.4L1635 54.3L1635.4 49.5L1635.9 47.4L1636.3 49.1L1636.7 53.3L1637.1 43.3L1637.5 53.8L1638 47.4L1638.4 46.7L1638.8 50.4L1639.2 53.7L1639.6 48.1L1640.1 52L1640.5 43.3L1640.9 51.6L1641.3 44.1L1641.8 49.5L1642.2 45L1642.6 46.9L1643 49.4L1643.4 48.7L1643.9 47.3L1644.3 47.6L1644.7 50.1L1645.1 48.9L1645.5 54.4L1646 47.3L1646.4 46L1646.8 51.6L1647.2 49.8L1647.6 46L1648.1 43.7L1648.5 51.7L1648.9 47.9L1649.3 50.4L1649.7 49.6L1650.2 55.2L1650.6 48.7L1651 45L1651.4 52.6L1651.8 43.1L1652.3 46.1L1652.7 51.4L1653.1 49.5L1653.5 49.2L1653.9 46L1654.4 43.3L1654.8 53.6L1655.2 43.1L1655.6 53.2L1656 44.9L1656.5 44.6L1656.9 44.1L1657.3 52.8L1657.7 50.4L1658.1 54.6L1658.6 55L1659 55.2L1659.4 52.1L1659.8 46.3L1660.3 53.9L1660.7 52.2L1661.1 43.5L1661.5 49.3L1661.9 46.1L1662.4 46.5L1662.8 46.1L1663.2 46.9L1663.6 47L1664 47L1664.5 49L1664.9 52.3L1665.3 52.2L1665.7 50.3L1666.1 49.8L1666.6 51.3L1667 49.8L1667.4 52.6L1667.8 47.6L1668.2 45.7L1668.7 54.1L1669.1 48.6L1669.5 48.9L1669.9 47.9L1670.3 52.1L1670.8 54.5L1671.2 49.5L1671.6 46.1L1672 54.4L1672.4 44.7L1672.9 54.3L1673.3 51L1673.7 46.2L1674.1 50.3L1674.5 46.3L1675 54L1675.4 48L1675.8 51L1676.2 44.1L1676.6 43.6L1677.1 49.9L1677.5 54.6L1677.9 53L1678.3 49.8L1678.8 44.4L1679.2 49.9L1679.6 45.7L1680 49.3L1680.4 45.7L1680.9 51.7L1681.3 48.3L1681.7 49.1L1682.1 49.8L1682.5 53.5L1683 49.8L1683.4 46L1683.8 47.5L1684.2 53.3L1684.6 53.6L1685.1 53.4L1685.5 53.2L1685.9 52.6L1686.3 48.8L1686.7 49.9L1687.2 51.1L1687.6 50.2L1688 50.2L1688.4 48.8L1688.8 54.8L1689.3 42L1689.7 43.2L1690.1 53.6L1690.5 41.2L1690.9 53L1691.4 51L1691.8 48.5L1692.2 49.4L1692.6 41.5L1693 42.5L1693.5 53.2L1693.9 55.9L1694.3 53.8L1694.7 46.8L1695.1 42.6L1695.6 52.3L1696 45.8L1696.4 49.9L1696.8 50.9L1697.3 48.2L1697.7 45.5L1698.1 53.4L1698.5 44.8L1698.9 48.4L1699.4 51.4L1699.8 47L1700.2 46.1L1700.6 50.1L1701 46.7L1701.5 52.1L1701.9 46.1L1702.3 46.5L1702.7 47.1L1703.1 50.7L1703.6 51.7L1704 49.6L1704.4 45.7"/>
</g>
<rect x="936.2" y="11.5" width="791.3" height="339.2" fill="none" stroke="#000" stroke-width="3.6"/>
<path d="M1049.24 350.7v-13.6M1049.24 11.5v13.6M1162.29 350.7v-13.6M1162.29 11.5v13.6M1275.33 350.7v-13.6M1275.33 11.5v13.6M1388.37 350.7v-13.6M1388.37 11.5v13.6M1501.41 350.7v-13.6M1501.41 11.5v13.6M1614.46 350.7v-13.6M1614.46 11.5v13.6M936.2 275.32h13.4M1727.5 275.32h-13.4M936.2 199.94h13.4M1727.5 199.94h-13.4M936.2 124.57h13.4M1727.5 124.57h-13.4M936.2 49.19h13.4M1727.5 49.19h-13.4" stroke="#000" stroke-width="1.5" fill="none"/>
<text x="920.54" y="385.8" font-size="27.6" font-family="DejaVu Sans, Liberation Sans, sans-serif">10</text>
<text x="1033.87" y="385.8" font-size="27.6" font-family="DejaVu Sans, Liberation Sans, sans-serif">15</text>
<text x="1147.13" y="385.8" font-size="27.6" font-family="DejaVu Sans, Liberation Sans, sans-serif">20</text>
<text x="1260.46" y="385.8" font-size="27.6" font-family="DejaVu Sans, Liberation Sans, sans-serif">25</text>
<text x="1373.18" y="385.8" font-size="27.6" font-family="DejaVu Sans, Liberation Sans, sans-serif">30</text>
<text x="1486.51" y="385.8" font-size="27.6" font-family="DejaVu Sans, Liberation Sans, sans-serif">35</text>
<text x="1599.64" y="385.8" font-size="27.6" font-family="DejaVu Sans, Liberation Sans, sans-serif">40</text>
<text x="1712.97" y="385.8" font-size="27.6" font-family="DejaVu Sans, Liberation Sans, sans-serif">45</text>
<text x="882.66" y="283.32" font-size="27.6" font-family="DejaVu Sans, Liberation Sans, sans-serif">0.4</text>
<text x="882.85" y="207.94" font-size="27.6" font-family="DejaVu Sans, Liberation Sans, sans-serif">0.6</text>
<text x="882.99" y="132.57" font-size="27.6" font-family="DejaVu Sans, Liberation Sans, sans-serif">0.8</text>
<text x="882.94" y="57.19" font-size="27.6" font-family="DejaVu Sans, Liberation Sans, sans-serif">1.0</text>
<text transform="translate(1216.05 426.9) scale(0.916 1)" font-size="33.87" font-family="Liberation Sans, DejaVu Sans, sans-serif" word-spacing="7.39" stroke="#fff" stroke-width="0.38" paint-order="fill stroke">Frequency [GHz]</text>
<g transform="translate(863.4 178.6) rotate(-90)">
<text transform="translate(-27.25 -0.97) scale(0.815 1)" font-size="26.6" font-family="DejaVu Sans, Liberation Sans, sans-serif">|</text>
<text transform="translate(-18.35 -0.07) scale(0.966 1)" font-size="26.18" font-family="DejaVu Sans, Liberation Sans, sans-serif" font-style="italic">S</text>
<text transform="translate(-14.89 -17.26) scale(0.694 1)" font-size="21.65" font-family="DejaVu Sans, Liberation Sans, sans-serif">~</text>
<text transform="translate(-2.02 3.7) scale(0.938 1)" font-size="16.74" font-family="DejaVu Sans, Liberation Sans, sans-serif">11</text>
<text transform="translate(19.95 -0.97) scale(0.815 1)" font-size="26.6" font-family="DejaVu Sans, Liberation Sans, sans-serif">|</text>
</g>
<text transform="translate(956.07 323.15) scale(1.089 1)" font-size="25.7" font-family="Liberation Serif, DejaVu Serif, serif" font-style="italic">ω</text>
<text transform="translate(974.73 327.8) scale(1.190 1)" font-size="20.54" font-family="Liberation Serif, DejaVu Serif, serif">2</text>
<text transform="translate(988.6 329.68) scale(0.960 1)" font-size="42.75" font-family="Liberation Serif, DejaVu Serif, serif" stroke="#fff" stroke-width="0.35">/</text>
<text transform="translate(1001.7 323.1) scale(1.074 1)" font-size="27.64" font-family="Liberation Serif, DejaVu Serif, serif" stroke="#000" stroke-width="0.25">2</text>
<text transform="translate(1015.43 323.15) scale(1.218 1)" font-size="25.81" font-family="Liberation Serif, DejaVu Serif, serif" font-style="italic">π</text>
<text transform="translate(1151.37 232.75) scale(1.089 1)" font-size="25.7" font-family="Liberation Serif, DejaVu Serif, serif" font-style="italic">ω</text>
<text transform="translate(1169.96 237.2) scale(1.172 1)" font-size="20.24" font-family="Liberation Serif, DejaVu Serif, serif">3</text>
<text transform="translate(1183.9 239.28) scale(0.960 1)" font-size="42.75" font-family="Liberation Serif, DejaVu Serif, serif" stroke="#fff" stroke-width="0.35">/</text>
<text transform="translate(1197 232.7) scale(1.074 1)" font-size="27.64" font-family="Liberation Serif, DejaVu Serif, serif" stroke="#000" stroke-width="0.25">2</text>
<text transform="translate(1210.73 232.75) scale(1.218 1)" font-size="25.81" font-family="Liberation Serif, DejaVu Serif, serif" font-style="italic">π</text>
<text transform="translate(1328.87 101.25) scale(1.089 1)" font-size="25.7" font-family="Liberation Serif, DejaVu Serif, serif" font-style="italic">ω</text>
<text transform="translate(1348.19 105.9) scale(1.020 1)" font-size="20.66" font-family="Liberation Serif, DejaVu Serif, serif">4</text>
<text transform="translate(1361.4 107.78) scale(0.960 1)" font-size="42.75" font-family="Liberation Serif, DejaVu Serif, serif" stroke="#fff" stroke-width="0.35">/</text>
<text transform="translate(1374.5 101.2) scale(1.074 1)" font-size="27.64" font-family="Liberation Serif, DejaVu Serif, serif" stroke="#000" stroke-width="0.25">2</text>
<text transform="translate(1388.23 101.25) scale(1.218 1)" font-size="25.81" font-family="Liberation Serif, DejaVu Serif, serif" font-style="italic">π</text>
<text transform="translate(1527.97 101.25) scale(1.089 1)" font-size="25.7" font-family="Liberation Serif, DejaVu Serif, serif" font-style="italic">ω</text>
<text transform="translate(1546.29 105.7) scale(1.189 1)" font-size="20.46" font-family="Liberation Serif, DejaVu Serif, serif">5</text>
<text transform="translate(1560.5 107.78) scale(0.960 1)" font-size="42.75" font-family="Liberation Serif, DejaVu Serif, serif" stroke="#fff" stroke-width="0.35">/</text>
<text transform="translate(1573.6 101.2) scale(1.074 1)" font-size="27.64" font-family="Liberation Serif, DejaVu Serif, serif" stroke="#000" stroke-width="0.25">2</text>
<text transform="translate(1587.33 101.25) scale(1.218 1)" font-size="25.81" font-family="Liberation Serif, DejaVu Serif, serif" font-style="italic">π</text>
<path d="M940.7 508.1L941.7 536.3L942.7 518.8L943.6 532.4L944.6 523.7L945.8 529.5L947 536.3L948.2 515.9L949.7 507.6L951.1 513.9L952.8 506.2L953.6 520.8L954.7 530L956 521.7L958 515.4L959.2 523.7L960.9 538.3L962.3 525.6L963.5 513.9L964.8 499.3L965.8 517.8L966.7 527.6L968 531.5L969.2 520.8L970.6 518.8L971.6 513.9L972.8 508.1L973.8 523.7L974.5 530.5L975.5 527.6L976.5 499.3L977.4 486.7L978.4 494.5L979.4 504.2L980.8 512L982.3 516.9L983 514.9L983.8 520.8L984.7 531.5L985.7 538.3L987.2 540.2L988.1 529.5L989.6 524.7L991.1 519.8L992.3 517.8L993.3 518.8L994.7 508.1L995.6 518.8L996.4 525.1L997.6 519.8L998.9 525.6L999.5 518.8L1000.8 501.3L1001.8 516.9L1002.5 525.6L1003.4 523.7L1004.2 530.5L1005.7 514.9L1006.6 525.6L1007.6 515.9L1009.1 497.4L1010.1 515.9L1011 525.6L1012 533.4L1013 504.2L1013.8 493.5L1014.7 513.9L1015.7 530L1016.9 521.7L1018 508.1L1019 525.6L1020 535.4L1021.3 523.7L1022.2 517.8L1023.7 498.9L1025.1 512L1026.3 489.6L1027.4 507.1L1028.4 519.8L1029.3 525.6L1030.5 503.7L1030.8 504.3L1031.8 513.4L1033 517.4L1034.5 513.4L1036.6 510.4L1037.6 517.4L1038.9 531.6L1040.1 543.7L1040.9 550.8L1041.6 531.6L1042.3 520.5L1043.1 527.5L1044.6 518.4L1045.7 525.5L1046.7 517.4L1048 530.6L1049.2 512.4L1050.2 523.5L1051.4 516.4L1052.7 524.5L1053.7 505.3L1054.7 491.2L1055.8 514.4L1056.8 521.5L1058.1 511.9L1059.3 523.5L1060.5 529.5L1062.1 517.4L1063.8 511.9L1065.2 534.1L1066.4 522.5L1067.4 516.4L1068.9 507.3L1069.9 522.5L1070.9 532.6L1072.5 546L1073.5 548.3L1074.6 571.4L1076 607L1077.2 579.6L1078.1 562.1L1079.1 564.1L1080.1 543.2L1080.9 545L1081.8 554.8L1082.5 531.6L1083.3 520.5L1084.3 527.5L1085.4 517.4L1086.8 532.6L1088.1 515.4L1089.1 504.3L1090.1 518.4L1091.1 527.5L1092.4 522.5L1093.4 513.4L1094.6 538.6L1095.7 517.4L1097.5 507.3L1099.2 516.4L1100.7 510.4L1101.7 503.8L1102.9 513.4L1104.2 521L1105.6 500.8L1106.8 512.4L1108.3 496.2L1109.8 487.6L1110.8 513.4L1111.8 534.1L1113 515.4L1114.3 512.4L1115.6 501.8L1116.9 523.5L1118.1 510.4L1119.4 503.3L1120.4 499.2L1121.4 522.5L1122.4 539.6L1123.4 525.5L1124.7 514.4L1125.5 527.5" fill="none" stroke="#4059a9" stroke-width="1.65" stroke-linejoin="round"/>
<rect x="938.7" y="461.4" width="187.7" height="262.6" fill="none" stroke="#000" stroke-width="3.6"/>
<path d="M1024 724v-13.6M1024 461.4v13.6M1110 724v-13.6M1110 461.4v13.6M938.7 521.5h13.4M1126.4 521.5h-13.4M938.7 602.6h13.4M1126.4 602.6h-13.4M938.7 683.4h13.4M1126.4 683.4h-13.4" stroke="#000" stroke-width="1.5" fill="none"/>
<text x="900.6" y="759.5" font-size="27.6" font-family="DejaVu Sans, Liberation Sans, sans-serif">21.20</text>
<text x="986.59" y="759.5" font-size="27.6" font-family="DejaVu Sans, Liberation Sans, sans-serif">21.25</text>
<text x="1072.1" y="759.5" font-size="27.6" font-family="DejaVu Sans, Liberation Sans, sans-serif">21.30</text>
<text x="867.18" y="529.7" font-size="27.6" font-family="DejaVu Sans, Liberation Sans, sans-serif">1.00</text>
<text x="867.09" y="610.8" font-size="27.6" font-family="DejaVu Sans, Liberation Sans, sans-serif">0.96</text>
<text x="868.11" y="691.6" font-size="27.6" font-family="DejaVu Sans, Liberation Sans, sans-serif">0.92</text>
<path d="M1239.5 525.4L1240.2 541.5L1241.2 515.3L1242.1 500.1L1242.9 515.3L1243.6 528.4L1245.1 528.9L1246.6 531.9L1247.4 515.3L1248.1 506.7L1249.1 517.3L1250.1 520.3L1251.3 515.3L1252.7 525.4L1254.4 533.4L1255.7 530.4L1257.7 531.9L1260.7 532.4L1262.3 530.4L1263.8 525.4L1265.1 537.5L1266.8 550.6L1268.1 530.4L1269.3 506.2L1270.1 500.1L1271.3 520.3L1273.2 537L1274.2 522.3L1274.9 515.3L1276.2 528.4L1277.7 547.6L1278.7 532.4L1279.6 521.8L1280.7 550.6L1281.9 535.5L1283 527.4L1284.3 540.5L1285.7 543L1286.5 525.4L1287.3 513.7L1288.3 546.6L1289 572.3L1289.7 542.5L1290.5 519.8L1291.8 551.1L1292.8 528.4L1293.9 515.3L1295.1 526.4L1296.6 524.3L1297.6 510.2L1298.4 502.6L1299.4 509.2L1300.4 515.3L1301.6 547.1L1302.5 532.4L1303.2 525.4L1304.5 532.4L1306.2 547.6L1307.7 534.9L1309.2 554.1L1310.2 538.5L1311.5 518.3L1312.6 507.7L1313.6 530.4L1314.3 545.1L1315.6 528.4L1317.1 516.8L1318.1 528.4L1319 538L1320.3 528.4L1321.8 518.3L1322.9 533.4L1323.9 545.1L1325.1 544L1326.4 531.4L1327.4 537.5L1328.2 543L1329.1 525.4L1329.9 514.7L1331 530.4L1332 538.5L1333.2 539L1334.2 519.3L1335.3 537.5L1336.1 548.1L1337.1 530.4L1337.9 523.3L1339.3 555.2L1340.1 535.5L1340.8 523.8L1341.9 538.5L1343.1 547.6L1343.9 555.7L1345.2 545.1L1347 544.5L1348.2 550.6L1349.9 571.9L1352 599.9L1353.2 600.9L1354.7 617.5L1356.1 616.4L1357.4 634L1359.4 703.4L1360.9 634L1362.3 577.1L1364.4 633L1366.1 613.3L1367.5 567.8L1369.2 565.5L1370.4 556.7L1371.4 538.5L1372.2 524.8L1373.6 522.3L1374.4 530.4L1375.5 537L1376.7 526.4L1378.3 519.8L1379.3 532.4L1380.3 550.6L1381.5 554.6L1382.5 538.5L1383.5 527.4L1384.5 551.1L1385.6 530.4L1386.4 512.2L1387.1 538.5L1387.9 569.8L1388.8 550.6L1389.6 535.5L1390.9 558.7L1392.1 550.6L1394.1 539.5L1395.7 550.6L1397.2 559.7L1398.2 540.5L1399 525.4L1399.9 540.5L1400.7 551.6L1401.9 538.5L1403.5 539.5L1404.9 535.5L1406 540.5L1407 550.1L1408 525.4L1409.3 533.4L1410.3 524.3L1411.3 516.3L1412.3 522.3L1413.6 532.4L1414.8 548.6L1416.1 551.6L1417.1 537.5L1417.9 529.4L1419.1 546.1L1420.9 545.1L1421.9 530.4L1422.7 516.3L1423.7 528.4L1424.4 520.3" fill="none" stroke="#4059a9" stroke-width="1.65" stroke-linejoin="round"/>
<rect x="1237.6" y="461.4" width="188" height="262.6" fill="none" stroke="#000" stroke-width="3.6"/>
<path d="M1331.3 724v-13.6M1331.3 461.4v13.6M1237.6 521.5h13.4M1425.6 521.5h-13.4M1237.6 602.6h13.4M1425.6 602.6h-13.4M1237.6 683.4h13.4M1425.6 683.4h-13.4" stroke="#000" stroke-width="1.5" fill="none"/>
<text x="1198.8" y="759.5" font-size="27.6" font-family="DejaVu Sans, Liberation Sans, sans-serif">29.70</text>
<text x="1294.09" y="759.5" font-size="27.6" font-family="DejaVu Sans, Liberation Sans, sans-serif">29.85</text>
<text x="1387.86" y="759.5" font-size="27.6" font-family="DejaVu Sans, Liberation Sans, sans-serif">30.00</text>
<text x="1167.08" y="529.7" font-size="27.6" font-family="DejaVu Sans, Liberation Sans, sans-serif">1.00</text>
<text x="1166.99" y="610.8" font-size="27.6" font-family="DejaVu Sans, Liberation Sans, sans-serif">0.96</text>
<text x="1168.01" y="691.6" font-size="27.6" font-family="DejaVu Sans, Liberation Sans, sans-serif">0.92</text>
<path d="M1542.6 491.4L1543.7 516.7L1544.8 507.2L1546.1 543.5L1547.3 556.2L1548 505.6L1549.2 546.7L1550 515.1L1550.8 537.2L1551.6 507.2L1552.7 530.9L1554 548.3L1555.9 554.6L1557.1 526.1L1559 515.1L1560.6 540.4L1561.6 497.7L1562.7 518.2L1563.9 560.1L1565 526.1L1566.6 549.9L1568.2 497.7L1569.5 507.2L1571.4 549.9L1573.3 505.6L1574.5 511.9L1575.8 524.6L1577.4 527.7L1578.5 505.6L1579.6 524.6L1580.8 548.3L1582 503.2L1583.2 537.2L1584.8 524.6L1586.4 530.9L1587.5 554.6L1588.8 487.4L1589.9 556.2L1591.1 537.2L1592.2 521.4L1593.5 500.1L1594.8 534.1L1595.4 585.3L1596.3 521.4L1597.5 549.9L1599 560.1L1600.1 530.9L1602.2 524.6L1603.5 507.2L1604.6 556.2L1605.8 515.1L1606.9 537.2L1608 549.9L1609.3 524.6L1610.6 556.2L1611.7 515.1L1612.8 507.2L1614.1 560.9L1615.3 530.9L1616.9 497.7L1618.5 497.4L1619.6 524.6L1621.2 553L1622.4 549.9L1623.9 498.5L1625.1 521.4L1625.9 504L1627 572L1628 549.9L1629.1 491.4L1629.9 586.9L1630.9 546L1631.9 565L1635.6 671.6L1638.3 565L1638.6 532.5L1639.7 549.9L1640.6 529.3L1641.7 519.8L1642.8 554.6L1643.8 565.7L1644.9 470L1646.1 502.4L1647.3 523L1648.5 515.1L1649.6 526.1L1650.7 540.4L1652.3 568L1653.3 505.6L1654.4 530.9L1655.5 524.6L1656.7 464.8L1658 543.5L1659.1 489.8L1660.2 502.4L1661.5 534.1L1662.7 554.6L1663.9 511.9L1665 530.9L1666.2 546.7L1667.8 537.2L1669.4 503.2L1670.7 524.6L1671.8 546.7L1672.9 511.9L1674.1 515.1L1675.7 545.1L1676.8 526.1L1678.1 542L1679.7 500.1L1680.8 515.1L1682.8 548.3L1684.4 502.4L1685.5 518.2L1686.8 541.2L1687.9 485.8L1689.2 527.7L1690.4 495.3L1691.8 491.4L1693.1 540.4L1693.9 559.3L1695.5 505.6L1696.6 515.1L1697.8 540.4L1699.4 549.1L1700.5 493.7L1701.8 523L1702.9 552.2L1704.2 495.3L1705.4 540.4L1706.5 509.5L1707.6 537.2L1708.6 513.5L1709.7 549.9L1710.8 530.9L1712.1 499.3L1713.2 537.2L1714 563.3L1715.2 513.5L1716.5 538.8L1718.1 560.9L1719.7 564.1L1721.6 521.4L1723.1 543.5L1724.7 566.5L1726 507.2L1727.1 502.4" fill="none" stroke="#4059a9" stroke-width="1.65" stroke-linejoin="round"/>
<rect x="1541" y="464.4" width="187.5" height="263.2" fill="none" stroke="#000" stroke-width="3.6"/>
<path d="M1675.2 727.6v-13.6M1675.2 464.4v13.6M1541 525.2h13.4M1728.5 525.2h-13.4M1541 606.3h13.4M1728.5 606.3h-13.4M1541 687.3h13.4M1728.5 687.3h-13.4" stroke="#000" stroke-width="1.5" fill="none"/>
<text x="1503.35" y="762.9" font-size="27.6" font-family="DejaVu Sans, Liberation Sans, sans-serif">37.85</text>
<text x="1637.85" y="762.9" font-size="27.6" font-family="DejaVu Sans, Liberation Sans, sans-serif">37.95</text>
<text x="1469.88" y="533.4" font-size="27.6" font-family="DejaVu Sans, Liberation Sans, sans-serif">1.00</text>
<text x="1469.79" y="614.5" font-size="27.6" font-family="DejaVu Sans, Liberation Sans, sans-serif">0.96</text>
<text x="1470.81" y="695.5" font-size="27.6" font-family="DejaVu Sans, Liberation Sans, sans-serif">0.92</text>
<text transform="translate(893.55 810.5) scale(0.916 1)" font-size="33.87" font-family="Liberation Sans, DejaVu Sans, sans-serif" word-spacing="7.39" stroke="#fff" stroke-width="0.38" paint-order="fill stroke">Frequency [GHz]</text>
<text transform="translate(1195.86 810.5) scale(0.915 1)" font-size="33.87" font-family="Liberation Sans, DejaVu Sans, sans-serif" word-spacing="7.39" stroke="#fff" stroke-width="0.38" paint-order="fill stroke">Frequency [GHz]</text>
<text transform="translate(1508.05 814) scale(0.916 1)" font-size="33.87" font-family="Liberation Sans, DejaVu Sans, sans-serif" word-spacing="7.39" stroke="#fff" stroke-width="0.38" paint-order="fill stroke">Frequency [GHz]</text>
<g transform="translate(853.1 624.8) rotate(-90)">
<text transform="translate(-27.25 -0.97) scale(0.815 1)" font-size="26.6" font-family="DejaVu Sans, Liberation Sans, sans-serif">|</text>
<text transform="translate(-18.35 -0.07) scale(0.966 1)" font-size="26.18" font-family="DejaVu Sans, Liberation Sans, sans-serif" font-style="italic">S</text>
<text transform="translate(-14.89 -17.26) scale(0.694 1)" font-size="21.65" font-family="DejaVu Sans, Liberation Sans, sans-serif">~</text>
<text transform="translate(-2.02 3.7) scale(0.938 1)" font-size="16.74" font-family="DejaVu Sans, Liberation Sans, sans-serif">11</text>
<text transform="translate(19.95 -0.97) scale(0.815 1)" font-size="26.6" font-family="DejaVu Sans, Liberation Sans, sans-serif">|</text>
</g>
<text transform="translate(992.57 622.45) scale(1.089 1)" font-size="25.7" font-family="Liberation Serif, DejaVu Serif, serif" font-style="italic">ω</text>
<text transform="translate(1011.16 626.9) scale(1.172 1)" font-size="20.24" font-family="Liberation Serif, DejaVu Serif, serif">3</text>
<text transform="translate(1025.1 628.98) scale(0.960 1)" font-size="42.75" font-family="Liberation Serif, DejaVu Serif, serif" stroke="#fff" stroke-width="0.35">/</text>
<text transform="translate(1038.2 622.4) scale(1.074 1)" font-size="27.64" font-family="Liberation Serif, DejaVu Serif, serif" stroke="#000" stroke-width="0.25">2</text>
<text transform="translate(1051.93 622.45) scale(1.218 1)" font-size="25.81" font-family="Liberation Serif, DejaVu Serif, serif" font-style="italic">π</text>
<text transform="translate(1270.07 622.45) scale(1.089 1)" font-size="25.7" font-family="Liberation Serif, DejaVu Serif, serif" font-style="italic">ω</text>
<text transform="translate(1289.39 627.1) scale(1.020 1)" font-size="20.66" font-family="Liberation Serif, DejaVu Serif, serif">4</text>
<text transform="translate(1302.6 628.98) scale(0.960 1)" font-size="42.75" font-family="Liberation Serif, DejaVu Serif, serif" stroke="#fff" stroke-width="0.35">/</text>
<text transform="translate(1315.7 622.4) scale(1.074 1)" font-size="27.64" font-family="Liberation Serif, DejaVu Serif, serif" stroke="#000" stroke-width="0.25">2</text>
<text transform="translate(1329.43 622.45) scale(1.218 1)" font-size="25.81" font-family="Liberation Serif, DejaVu Serif, serif" font-style="italic">π</text>
<text transform="translate(1592.97 706.25) scale(1.089 1)" font-size="25.7" font-family="Liberation Serif, DejaVu Serif, serif" font-style="italic">ω</text>
<text transform="translate(1611.29 710.7) scale(1.189 1)" font-size="20.46" font-family="Liberation Serif, DejaVu Serif, serif">5</text>
<text transform="translate(1625.5 712.78) scale(0.960 1)" font-size="42.75" font-family="Liberation Serif, DejaVu Serif, serif" stroke="#fff" stroke-width="0.35">/</text>
<text transform="translate(1638.6 706.2) scale(1.074 1)" font-size="27.64" font-family="Liberation Serif, DejaVu Serif, serif" stroke="#000" stroke-width="0.25">2</text>
<text transform="translate(1652.33 706.25) scale(1.218 1)" font-size="25.81" font-family="Liberation Serif, DejaVu Serif, serif" font-style="italic">π</text>
<text transform="translate(-0.25 26.85) scale(0.902 1)" font-size="35.96" font-family="Liberation Sans, DejaVu Sans, sans-serif" font-weight="bold">a</text>
<text transform="translate(837.18 27.03) scale(1.048 1)" font-size="37.86" font-family="Liberation Sans, DejaVu Sans, sans-serif" font-weight="bold">b</text>
<text transform="translate(837.85 470.75) scale(0.880 1)" font-size="36.32" font-family="Liberation Sans, DejaVu Sans, sans-serif" font-weight="bold">c</text>
</svg></body></html>
